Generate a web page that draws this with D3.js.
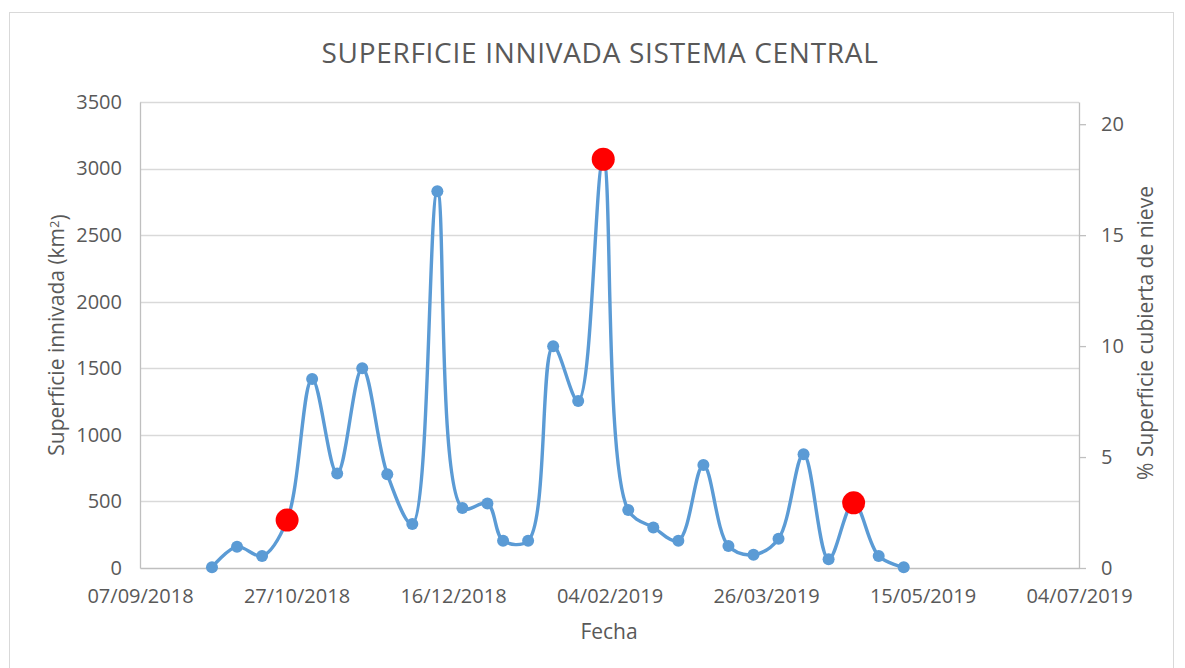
<!DOCTYPE html>
<html>
<head>
<meta charset="utf-8">
<script src="https://cdn.jsdelivr.net/npm/d3@7"></script>
<style>
  html, body { margin: 0; padding: 0; background: #ffffff; }
  svg { display: block; }
  text { font-family: "Open Sans", sans-serif; fill: #595959; }
</style>
</head>
<body>
<svg id="chart" width="1185" height="668"></svg>
<script>
// ---- Data ----
const dates = [
  "30/09/2018","08/10/2018","16/10/2018","24/10/2018","01/11/2018","09/11/2018",
  "17/11/2018","25/11/2018","03/12/2018","11/12/2018","19/12/2018","27/12/2018",
  "01/01/2019","09/01/2019","17/01/2019","25/01/2019","02/02/2019","10/02/2019",
  "18/02/2019","26/02/2019","06/03/2019","14/03/2019","22/03/2019","30/03/2019",
  "07/04/2019","15/04/2019","23/04/2019","01/05/2019","09/05/2019"
];
const superficie = [
  5, 160, 90, 360, 1420, 710,
  1500, 705, 330, 2830, 450, 485,
  205, 205, 1665, 1255, 3070, 435,
  305, 205, 773, 165, 100, 220,
  854, 65, 490, 90, 5
];
const highlightDates = ["24/10/2018", "02/02/2019", "23/04/2019"];
const xTickLabels = ["07/09/2018","27/10/2018","16/12/2018","04/02/2019","26/03/2019","15/05/2019","04/07/2019"];
const leftTicks = [0, 500, 1000, 1500, 2000, 2500, 3000, 3500];
const rightTicks = [0, 5, 10, 15, 20];
const leftDomain = [0, 3500];
const rightDomain = [0, 21];

const titleText = "SUPERFICIE INNIVADA SISTEMA CENTRAL";
const xTitle = "Fecha";
const yLeftTitle = "Superficie innivada (km";
const yRightTitle = "% Superficie cubierta de nieve";

// ---- Layout ----
const W = 1185, H = 668;
const plot = { left: 140, right: 1079, top: 102, bottom: 568 };
const parse = d3.utcParse("%d/%m/%Y");
const fmt = d3.utcFormat("%d/%m/%Y");

const points = dates.map((d, i) => ({ date: parse(d), value: superficie[i], hl: highlightDates.includes(d) }));
const xTicks = xTickLabels.map(parse);

const svg = d3.select("#chart");
svg.append("rect").attr("x", 0).attr("y", 0).attr("width", W).attr("height", H).attr("fill", "#fff");
svg.append("rect").attr("x", 9.5).attr("y", 12.5).attr("width", 1164).attr("height", 700)
   .attr("fill", "none").attr("stroke", "#d9d9d9").attr("stroke-width", 1);

const x = d3.scaleUtc().domain([xTicks[0], xTicks[xTicks.length - 1]]).range([plot.left, plot.right]);
const yL = d3.scaleLinear().domain(leftDomain).range([plot.bottom, plot.top]);
const yR = d3.scaleLinear().domain(rightDomain).range([plot.bottom, plot.top]);

// gridlines
svg.append("g").selectAll("line").data(leftTicks.filter(t => t > 0)).join("line")
  .attr("x1", plot.left).attr("x2", plot.right)
  .attr("y1", d => Math.round(yL(d)) + 0.5).attr("y2", d => Math.round(yL(d)) + 0.5)
  .attr("stroke", "#d9d9d9").attr("stroke-width", 1.3);

const tickFont = "20px";

// left axis
const gL = svg.append("g").attr("transform", `translate(${plot.left},0)`)
  .call(d3.axisLeft(yL).tickValues(leftTicks).tickSize(0).tickPadding(18).tickFormat(d3.format("d")));
gL.select(".domain").attr("stroke", "#bfbfbf").attr("stroke-width", 1.3);
gL.selectAll("text").style("font-family", "Open Sans").style("font-size", tickFont).attr("fill", "#595959");

// right axis
const gR = svg.append("g").attr("transform", `translate(${plot.right},0)`)
  .call(d3.axisRight(yR).tickValues(rightTicks).tickSize(7).tickSizeOuter(0).tickPadding(15));
gR.select(".domain").attr("stroke", "#bfbfbf").attr("stroke-width", 1.3);
gR.selectAll("line").attr("stroke", "#bfbfbf").attr("stroke-width", 1.3);
gR.selectAll("text").style("font-family", "Open Sans").style("font-size", tickFont).attr("fill", "#595959");

// bottom axis
const gB = svg.append("g").attr("transform", `translate(0,${plot.bottom})`)
  .call(d3.axisBottom(x).tickValues(xTicks).tickSize(0).tickPadding(21).tickFormat(fmt));
gB.select(".domain").attr("stroke", "#bfbfbf").attr("stroke-width", 1.3);
gB.selectAll("text").style("font-family", "Open Sans").style("font-size", tickFont).attr("fill", "#595959");

// line
const line = d3.line().x(d => x(d.date)).y(d => yL(d.value)).curve(d3.curveCatmullRom.alpha(0.5));
svg.append("path").datum(points).attr("d", line)
  .attr("fill", "none").attr("stroke", "#5b9bd5").attr("stroke-width", 3.4)
  .attr("stroke-linejoin", "round").attr("stroke-linecap", "round");

// markers
svg.append("g").selectAll("circle").data(points.filter(d => !d.hl)).join("circle")
  .attr("cx", d => x(d.date)).attr("cy", d => yL(d.value)).attr("r", 6).attr("fill", "#5b9bd5");
svg.append("g").selectAll("circle").data(points.filter(d => d.hl)).join("circle")
  .attr("cx", d => x(d.date)).attr("cy", d => yL(d.value)).attr("r", 11.5).attr("fill", "#ff0000");

// titles
svg.append("text").attr("x", 600).attr("y", 63).attr("text-anchor", "middle")
  .style("font-size", "28px").style("letter-spacing", "0.7px").text(titleText);
svg.append("text").attr("x", 609).attr("y", 639).attr("text-anchor", "middle")
  .style("font-size", "21px").text(xTitle);
const tl = svg.append("text").attr("transform", "translate(64,335) rotate(-90)").attr("text-anchor", "middle")
  .style("font-size", "21px");
tl.append("tspan").text(yLeftTitle);
tl.append("tspan").attr("dy", "-0.4em").style("font-size", "13px").text("2");
tl.append("tspan").attr("dy", "0.4em").text(")");
svg.append("text").attr("transform", "translate(1153,333) rotate(-90)").attr("text-anchor", "middle")
  .style("font-size", "21px").text(yRightTitle);
</script>
</body>
</html>
